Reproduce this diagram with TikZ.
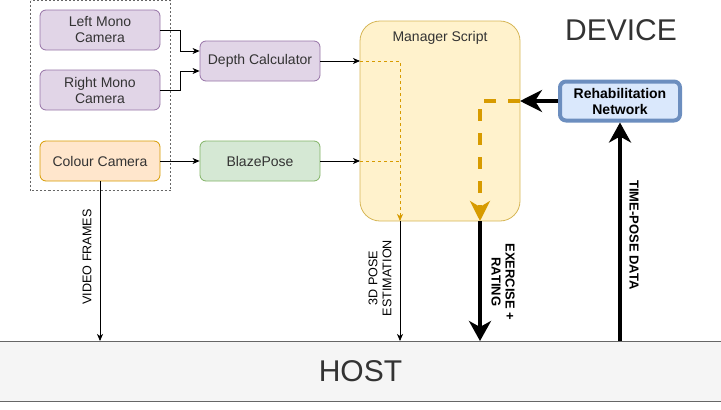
\documentclass[tikz,border=0pt]{standalone}
\usepackage{fontspec}
\setmainfont{Liberation Sans}
\usetikzlibrary{arrows.meta}
\definecolor{txt}{HTML}{333333}
\definecolor{purpF}{HTML}{E1D5E7}\definecolor{purpD}{HTML}{9673A6}
\definecolor{orF}{HTML}{FFE6CC}\definecolor{orD}{HTML}{D79B00}
\definecolor{grF}{HTML}{D5E8D4}\definecolor{grD}{HTML}{82B366}
\definecolor{yeF}{HTML}{FFF2CC}\definecolor{yeD}{HTML}{D6B656}
\definecolor{blF}{HTML}{DAE8FC}\definecolor{blD}{HTML}{6C8EBF}
\definecolor{hoF}{HTML}{F5F5F5}\definecolor{hoD}{HTML}{666666}
\begin{document}
\begin{tikzpicture}[x=1pt,y=-1pt,
  box/.style={draw, rounded corners=6pt, minimum width=120pt, minimum height=40pt, inner sep=0pt, align=center, text=txt, font=\fontsize{14}{16}\selectfont, line width=0.8pt},
  purp/.style={box, fill=purpF, draw=purpD},
  thin/.style={line width=0.8pt, -{Stealth[length=7pt,width=6pt,inset=2pt]}},
  thick/.style={line width=4pt, -{Stealth[length=20pt,width=22pt,inset=6pt]}},
  lbl/.style={font=\fontsize{12.6}{14}\selectfont, align=center, text=black, inner sep=0pt},
  blbl/.style={font=\bfseries\fontsize{13}{14}\selectfont, align=center, text=black, inner sep=0pt}
]
\useasboundingbox (0,0) rectangle (721,410);
% dotted group
\draw[hoD, dash pattern=on 2pt off 2pt, line width=0.7pt] (30.5,0.5) rectangle (170.5,190.5);
% nodes
\node[purp] (lm) at (100,30) {Left Mono\\Camera};
\node[purp] (rm) at (100,90) {Right Mono\\Camera};
\node[box, fill=orF, draw=orD] (cc) at (100,161) {Colour Camera};
\node[purp] (dc) at (260,61) {Depth Calculator};
\node[box, fill=grF, draw=grD] (bp) at (260,161) {BlazePose};
\node[draw=yeD, fill=yeF, rounded corners=20pt, minimum width=160pt, minimum height=200pt, line width=0.8pt] (ms) at (440,121) {};
\node[text=txt, font=\fontsize{14}{16}\selectfont, anchor=north] (mst) at (440,28) {Manager Script};
\node[draw=blD, fill=blF, line width=4pt, rounded corners=6pt, minimum width=120pt, minimum height=39pt, inner sep=0pt, align=center, font=\bfseries\fontsize{14}{16}\selectfont] (rn) at (620,101) {Rehabilitation\\Network};
\node[draw=hoD, fill=hoF, minimum width=722pt, minimum height=60pt, inner sep=0pt, line width=0.8pt, text=txt, font=\fontsize{30}{32}\selectfont] (host) at (360.5,371) {HOST};
\node[text=txt, font=\fontsize{30}{32}\selectfont] (dev) at (621,30) {DEVICE};
% coordinates
\coordinate (lmj) at (180,30);
\coordinate (rmj) at (180,90);
\coordinate (m1) at (360,61);
\coordinate (m2) at (360,161);
\coordinate (k1) at (400,61);
\coordinate (k2) at (400,161);
\coordinate (kb) at (400,221);
\coordinate (kh) at (400,341);
\coordinate (e1) at (520,101);
\coordinate (e2) at (480,101);
\coordinate (eb) at (480,221);
\coordinate (eh) at (480,341);
\coordinate (vh) at (100,341);
\coordinate (th) at (620,341);
% edges
\draw[thin] (lm.east) -- (lmj) |- ([yshift=10pt]dc.west);
\draw[thin] (rm.east) -- (rmj) |- ([yshift=-10pt]dc.west);
\draw[thin] (cc.east) -- (bp.west);
\draw[thin] (dc.east) -- (m1);
\draw[thin] (bp.east) -- (m2);
\draw[orD, line width=0.8pt, dash pattern=on 3pt off 3pt] (m2) -- (k2);
\draw[orD, line width=0.8pt, dash pattern=on 3pt off 3pt, -{Stealth[length=7pt,width=6pt,inset=2pt]}] (m1) -- (k1) -- (kb);
\draw[thin] (kb) -- (kh);
\draw[thin] (cc.south) -- (vh);
\draw[line width=4pt, -{Stealth[length=22pt,width=22pt,inset=7pt]}] (rn.west) -- (e1);
\draw[orD, line width=4pt, dash pattern=on 12pt off 12pt, -{Stealth[length=20pt,width=20pt,inset=6pt]}] (e1) -- (e2) -- (eb);
\draw[thick] (eb) -- (eh);
\draw[thick] (th) -- (rn.south);
% labels
\node[lbl, rotate=90] (vf) at (87,257) {VIDEO FRAMES};
\node[lbl, rotate=90] (pe) at (380,278) {3D POSE\\ESTIMATION};
\node[blbl, rotate=-90] (er) at (503,282) {EXERCISE +\\RATING};
\node[blbl, rotate=-90] (tp) at (634,235) {TIME-POSE DATA};
\end{tikzpicture}
\end{document}
